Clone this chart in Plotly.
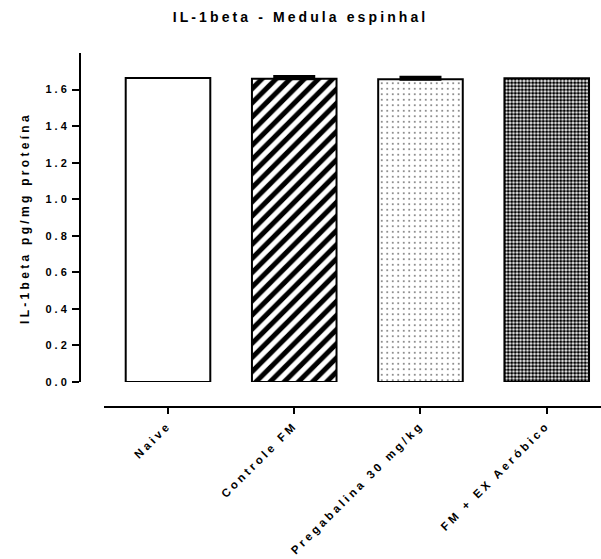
import plotly.graph_objects as go

categories = ["Naive", "Controle FM", "Pregabalina 30 mg/kg", "FM + EX Aeróbico"]
values = [1.663, 1.659, 1.657, 1.662]
errors_up = [None, 0.012, 0.010, None]
y_ticks = [0.0, 0.2, 0.4, 0.6, 0.8, 1.0, 1.2, 1.4, 1.6]
title_text = "IL-1beta - Medula espinhal"
y_title = "IL-1beta pg/mg proteína"

W, H = 601, 559
FONT = "Liberation Sans, Arial, sans-serif"

patterns = [
    dict(shape=""),
    dict(shape="/", size=10, solidity=0.5, fgcolor="black", bgcolor="white", fgopacity=1),
    dict(shape=".", size=5.5, solidity=0.06, fgcolor="black", bgcolor="white", fgopacity=1),
    dict(shape=".", size=3.5, solidity=0.65, fgcolor="black", bgcolor="white", fgopacity=1),
]

fig = go.Figure()
for i, cat in enumerate(categories):
    err = errors_up[i]
    fig.add_trace(go.Bar(
        x=[i], y=[values[i]], width=0.67,
        marker=dict(color="white", line=dict(color="black", width=2), pattern=patterns[i]),
        error_y=dict(type="data", symmetric=False,
                     array=[err], arrayminus=[0],
                     visible=err is not None,
                     color="black", thickness=3, width=21),
        showlegend=False, name=cat,
    ))

fig.update_layout(
    width=W, height=H,
    margin=dict(l=0, r=0, t=0, b=0),
    paper_bgcolor="white", plot_bgcolor="white",
    font=dict(family=FONT, size=11, color="black", weight="bold"),
    barmode="overlay",
    xaxis=dict(
        domain=[104 / W, 1.0], anchor="free", position=(H - 407) / H,
        range=[-0.507, 3.43], tickmode="array", tickvals=list(range(len(categories))),
        ticktext=categories, tickangle=-45,
        showline=True, linecolor="black", linewidth=2,
        ticks="outside", ticklen=6, tickwidth=2, tickcolor="black",
        showgrid=False, zeroline=False, automargin=False,
        tickfont=dict(family=FONT, size=11.5, weight="bold"),
    ),
    yaxis=dict(
        domain=[(H - 382) / H, (H - 53) / H], anchor="free", position=80 / W,
        range=[0, 1.8], tickmode="array", tickvals=y_ticks,
        ticktext=[f"{v:.1f}" for v in y_ticks],
        showline=True, linecolor="black", linewidth=2,
        ticks="outside", ticklen=7, tickwidth=2, tickcolor="black",
        showgrid=False, zeroline=False, automargin=False,
        tickfont=dict(family=FONT, size=11, weight="bold"),
    ),
    annotations=[
        dict(text=title_text, xref="paper", yref="paper", x=300 / W, y=(H - 17) / H,
             showarrow=False, xanchor="center", yanchor="middle",
             font=dict(family=FONT, size=14, weight="bold")),
        dict(text=y_title, xref="paper", yref="paper", x=25 / W, y=(H - 218) / H,
             showarrow=False, xanchor="center", yanchor="middle", textangle=-90,
             font=dict(family=FONT, size=12, weight="bold")),
    ],
)

post = """
var gd = document.getElementById('{plot_id}');
gd.querySelectorAll('.ytick text').forEach(function(t){ t.style.letterSpacing='3px'; });
gd.querySelectorAll('.xtick text').forEach(function(t){ t.style.letterSpacing='3.2px'; });
var ann = gd.querySelectorAll('.annotation-text');
if (ann[0]) ann[0].style.letterSpacing='3.1px';
if (ann[1]) ann[1].style.letterSpacing='3.3px';
"""
fig.write_html("out.html", post_script=post)
